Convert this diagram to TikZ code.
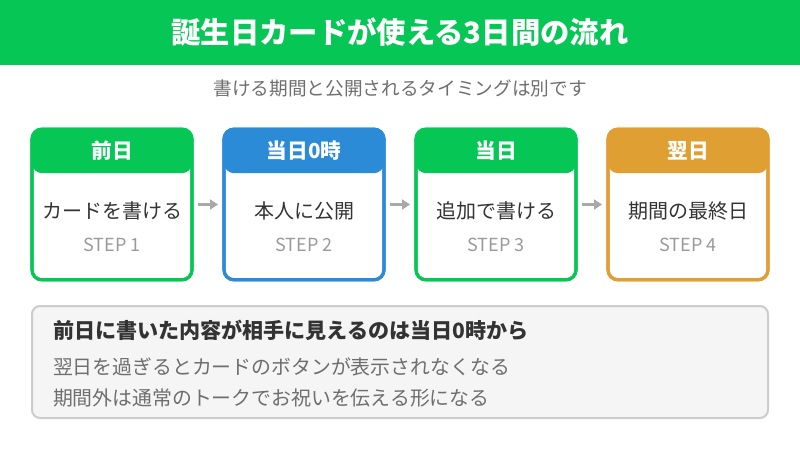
\documentclass[tikz,border=0pt]{standalone}
\usepackage{fontspec}
\setmainfont{Noto Sans CJK JP}
\usepackage{xcolor}
\usetikzlibrary{arrows.meta,positioning,calc}

\definecolor{linegreen}{HTML}{06C755}
\definecolor{zeroblue}{HTML}{2B8BD6}
\definecolor{nextorange}{HTML}{E09F33}
\definecolor{darktext}{HTML}{333333}
\definecolor{midtext}{HTML}{6E6E6E}
\definecolor{steptext}{HTML}{9A9A9A}

\begin{document}
\begin{tikzpicture}[
  x=0.75pt, y=-0.75pt,
  every node/.style={inner sep=0pt, outer sep=0pt},
  card/.style={rectangle, draw=#1, line width=2.4pt, rounded corners=7.5pt, minimum width=120pt, minimum height=113pt, fill=white},
  head/.style={font=\fontsize{15.5}{18}\selectfont\bfseries, text=white},
  body/.style={font=\fontsize{15}{18}\selectfont, text=darktext},
  stepno/.style={font=\fontsize{13.5}{16}\selectfont, text=steptext},
  arr/.style={-{Triangle[length=6pt, width=7.5pt]}, line width=2.2pt, draw=steptext!85, shorten <=4.5pt, shorten >=4.5pt},
  noteline/.style={anchor=west, font=\fontsize{14.9}{18}\selectfont, text=midtext},
]
\useasboundingbox (0,0) rectangle (800,450);

% title bar
\fill[linegreen] (0,0) rectangle (800,65);
\node[font=\fontsize{22}{26}\selectfont\bfseries, text=white] (title) at (400,32) {誕生日カードが使える3日間の流れ};
\node[font=\fontsize{14}{17}\selectfont, text=midtext] (sub) at (400,88) {書ける期間と公開されるタイミングは別です};

% four day cards
\foreach \name/\cx/\col/\hd/\txt/\num in {
    prev/112/linegreen/前日/カードを書ける/1,
    zero/304/zeroblue/当日0時/本人に公開/2,
    today/496/linegreen/当日/追加で書ける/3,
    next/688/nextorange/翌日/期間の最終日/4} {
  \node[card=\col] (\name) at (\cx,204.5) {};
  \fill[\col, rounded corners=7.5pt] (\name.north west) rectangle ([yshift=-33pt]\name.north east);
  \draw[\col, line width=2.4pt, rounded corners=7.5pt] (\name.north west) rectangle (\name.south east);
  \node[head] (\name-hd) at (\cx,151) {\hd};
  \node[body] (\name-txt) at (\cx,211) {\txt};
  \node[stepno] (\name-step) at (\cx,245) {STEP \num};
}

\draw[arr] (prev.east) -- (zero.west);
\draw[arr] (zero.east) -- (today.west);
\draw[arr] (today.east) -- (next.west);

% note box
\node[rectangle, draw=black!20, line width=1.5pt, fill=black!4, rounded corners=6pt, minimum width=552pt, minimum height=84pt] (note) at (400,362) {};
\node[anchor=west, font=\fontsize{15.8}{19}\selectfont\bfseries, text=darktext] (note-hd) at (53,330) {前日に書いた内容が相手に見えるのは当日0時から};
\node[noteline] (note-a) at (53,367) {翌日を過ぎるとカードのボタンが表示されなくなる};
\node[noteline] (note-b) at (53,398) {期間外は通常のトークでお祝いを伝える形になる};

\end{tikzpicture}
\end{document}
